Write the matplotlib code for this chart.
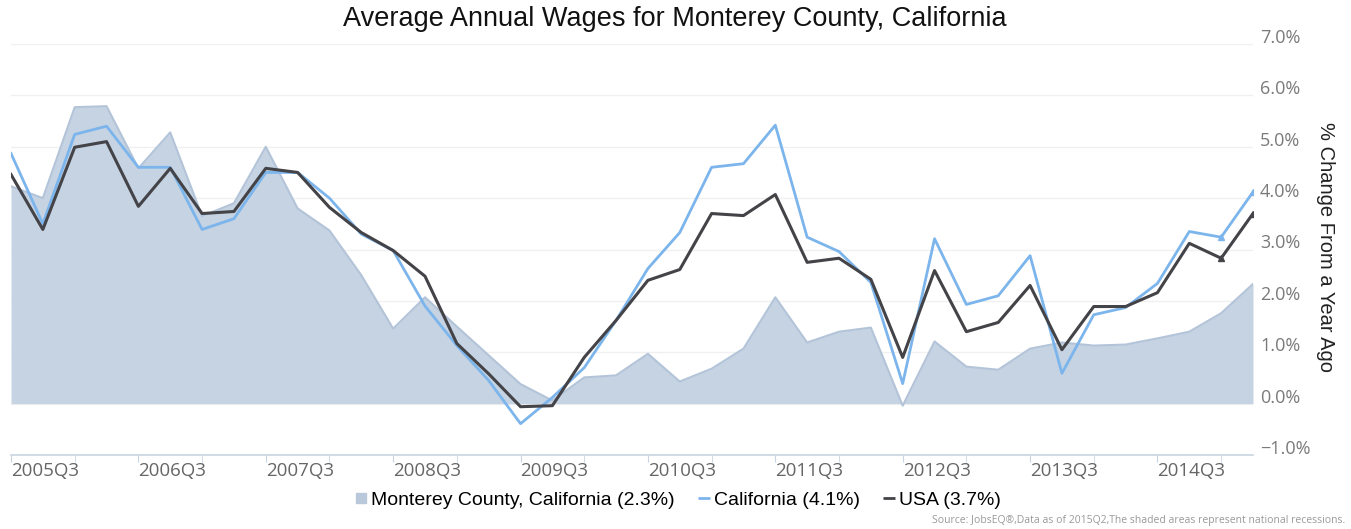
import numpy as np
import matplotlib.pyplot as plt
import matplotlib.transforms as mtransforms
from matplotlib.lines import Line2D

# quarterly data, 2005Q2 .. 2015Q1 (40 quarters)
n_quarters = 40
tick_labels = ["2005Q3", "2006Q3", "2007Q3", "2008Q3", "2009Q3",
               "2010Q3", "2011Q3", "2012Q3", "2013Q3", "2014Q3"]

# % change from a year ago
monterey = [4.23, 4.00, 5.77, 5.79, 4.58, 5.28, 3.65, 3.90, 5.00, 3.80,
            3.37, 2.50, 1.46, 2.07, 1.50, 0.94, 0.38, 0.06, 0.51, 0.55,
            0.97, 0.43, 0.68, 1.07, 2.07, 1.19, 1.40, 1.48, -0.04, 1.21,
            0.72, 0.66, 1.07, 1.19, 1.13, 1.15, 1.27, 1.40, 1.76, 2.33]
california = [4.87, 3.50, 5.24, 5.40, 4.60, 4.60, 3.39, 3.60, 4.50, 4.50,
              4.00, 3.30, 2.98, 1.90, 1.13, 0.45, -0.39, 0.12, 0.70, 1.62,
              2.63, 3.33, 4.60, 4.67, 5.42, 3.24, 2.96, 2.36, 0.39, 3.21,
              1.93, 2.10, 2.88, 0.59, 1.73, 1.87, 2.34, 3.35, 3.24, 4.12]
usa = [4.46, 3.39, 4.99, 5.10, 3.84, 4.58, 3.70, 3.74, 4.58, 4.50,
       3.82, 3.33, 2.98, 2.48, 1.17, 0.58, -0.06, -0.04, 0.90, 1.62,
       2.40, 2.61, 3.70, 3.66, 4.07, 2.75, 2.83, 2.42, 0.90, 2.59,
       1.40, 1.58, 2.30, 1.05, 1.89, 1.89, 2.16, 3.12, 2.83, 3.70]

x = np.arange(n_quarters)

area_fill = '#c6d3e3'
area_edge = '#b3c4d9'
ca_color = '#7cb5ec'
us_color = '#434348'

W, H = 1351, 529
fig = plt.figure(figsize=(W / 100, H / 100), dpi=100)
ax = fig.add_axes([11 / W, 1 - 455 / H, (1253 - 11) / W, (455 - 44) / H])

ax.fill_between(x, 0, monterey, color=area_fill, lw=0, zorder=2)
ax.plot(x, monterey, color=area_edge, lw=1.5, zorder=2)
ax.plot(x, california, color=ca_color, lw=2, zorder=3)
ax.plot(x, usa, color=us_color, lw=2.2, zorder=4)
# small markers on the last points
ax.plot(x[-2:], california[-2:], ls='', marker='^', ms=4, color=ca_color, zorder=3)
ax.plot(x[-2:], usa[-2:], ls='', marker='^', ms=4, color=us_color, zorder=4)

ax.set_xlim(0, n_quarters - 1)
ax.set_ylim(-1, 7)

# grid
for v in range(0, 8):
    ax.axhline(v, color='#f0f0f0', lw=1, zorder=1)

for s in ['left', 'right', 'top']:
    ax.spines[s].set_visible(False)
ax.spines['bottom'].set_color('#c8d4e2')
ax.spines['bottom'].set_linewidth(1.2)

# x ticks: marks every 2 quarters, labels every 4 quarters
ax.set_xticks(np.arange(0, n_quarters, 4))
ax.set_xticklabels(tick_labels, ha='left', fontsize=13.5, color='#666666',
                   family='Open Sans')
ax.set_xticks(np.arange(2, n_quarters, 4), minor=True)
ax.tick_params(axis='x', which='both', length=5, color='#c8d4e2', pad=0)

# y ticks on right, drawn slightly above the grid line
ax.yaxis.tick_right()
yt = np.arange(-1, 8)
ax.set_yticks(yt)
ax.set_yticklabels(['\u22121.0%' if v < 0 else f'{v:.1f}%' for v in yt],
                   fontsize=13, color='#7a7a7a', family='Open Sans', va='center')
ax.tick_params(axis='y', length=0, pad=5)
shift = mtransforms.ScaledTranslation(0, 6 / 100, fig.dpi_scale_trans)
for lab in ax.get_yticklabels():
    lab.set_transform(lab.get_transform() + shift)

fig.text(1325 / W, 1 - 247 / H, '% Change From a Year Ago', rotation=-90,
         ha='center', va='center', fontsize=14.5, color='#222222',
         family='Liberation Sans')

fig.text(675 / W, 1 - 19 / H, 'Average Annual Wages for Monterey County, California',
         ha='center', va='center', fontsize=19.5, color='#111111',
         family='Liberation Sans')

handles = [
    Line2D([], [], ls='', marker='s', ms=7, color='#b9c8da'),
    Line2D([], [], ls='', marker='_', ms=9, mew=2, color=ca_color),
    Line2D([], [], ls='', marker='_', ms=9, mew=2, color=us_color),
]
labels = ['Monterey County, California (2.3%)', 'California (4.1%)', 'USA (3.7%)']
fig.legend(handles, labels, loc='center', bbox_to_anchor=(678 / W, 1 - 500 / H),
           ncol=3, frameon=False, handlelength=0.6, handletextpad=0.2,
           columnspacing=1.2, prop={'family': 'Liberation Sans', 'size': 14})

fig.text(1345 / W, 1 - 520 / H,
         'Source: JobsEQ\u00ae,Data as of 2015Q2,The shaded areas represent national recessions.',
         ha='right', va='center', fontsize=7.5, color='#999999', family='Open Sans')

fig.savefig('out.png', dpi=100)
